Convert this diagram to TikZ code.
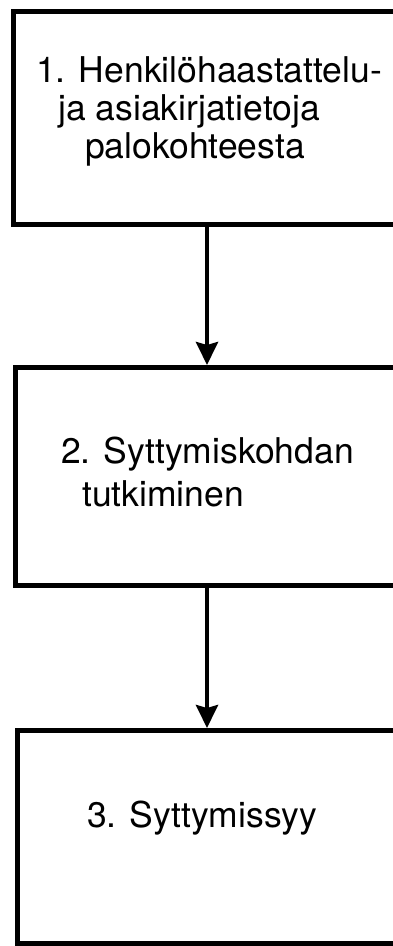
\documentclass[tikz,border=0pt]{standalone}
\usepackage{fontspec}
\setmainfont{TeX Gyre Heros}
\usetikzlibrary{arrows.meta}
\begin{document}
\begin{tikzpicture}[x=1pt,y=1pt,
  box/.style={draw=black, line width=4.5pt, rectangle, inner sep=0pt, anchor=north west, minimum width=420pt},
  lbl/.style={anchor=base west, inner sep=0pt, font=\fontsize{35.5}{40}\selectfont, text=black},
  arr/.style={line width=4pt, -{Stealth[length=23pt,width=22pt,inset=3pt]}}]
\useasboundingbox (0,0) rectangle (393,-946);
\fill[white] (0,0) rectangle (393,-946);
\clip (0,0) rectangle (393,-946);
\node[box, minimum height=213pt] (b1) at (11,-9) {};
\node[box, minimum height=218pt] (b2) at (13,-365) {};
\node[box, minimum height=213pt] (b3) at (15,-728) {};
\node[lbl] (t1a) at (36,-82) {1. Henkilöhaastattelu-};
\node[lbl] (t1b) at (58,-120) {ja asiakirjatietoja};
\node[lbl] (t1c) at (85,-158) {palokohteesta};
\node[lbl] (t2a) at (61,-463) {2. Syttymiskohdan};
\node[lbl] (t2b) at (82,-506) {tutkiminen};
\node[lbl] (t3) at (87,-827) {3. Syttymissyy};
\coordinate (ax) at (207,0);
\draw[arr] (b1.south -| ax) -- (b2.north -| ax);
\draw[arr] (b2.south -| ax) -- (b3.north -| ax);
\end{tikzpicture}
\end{document}
